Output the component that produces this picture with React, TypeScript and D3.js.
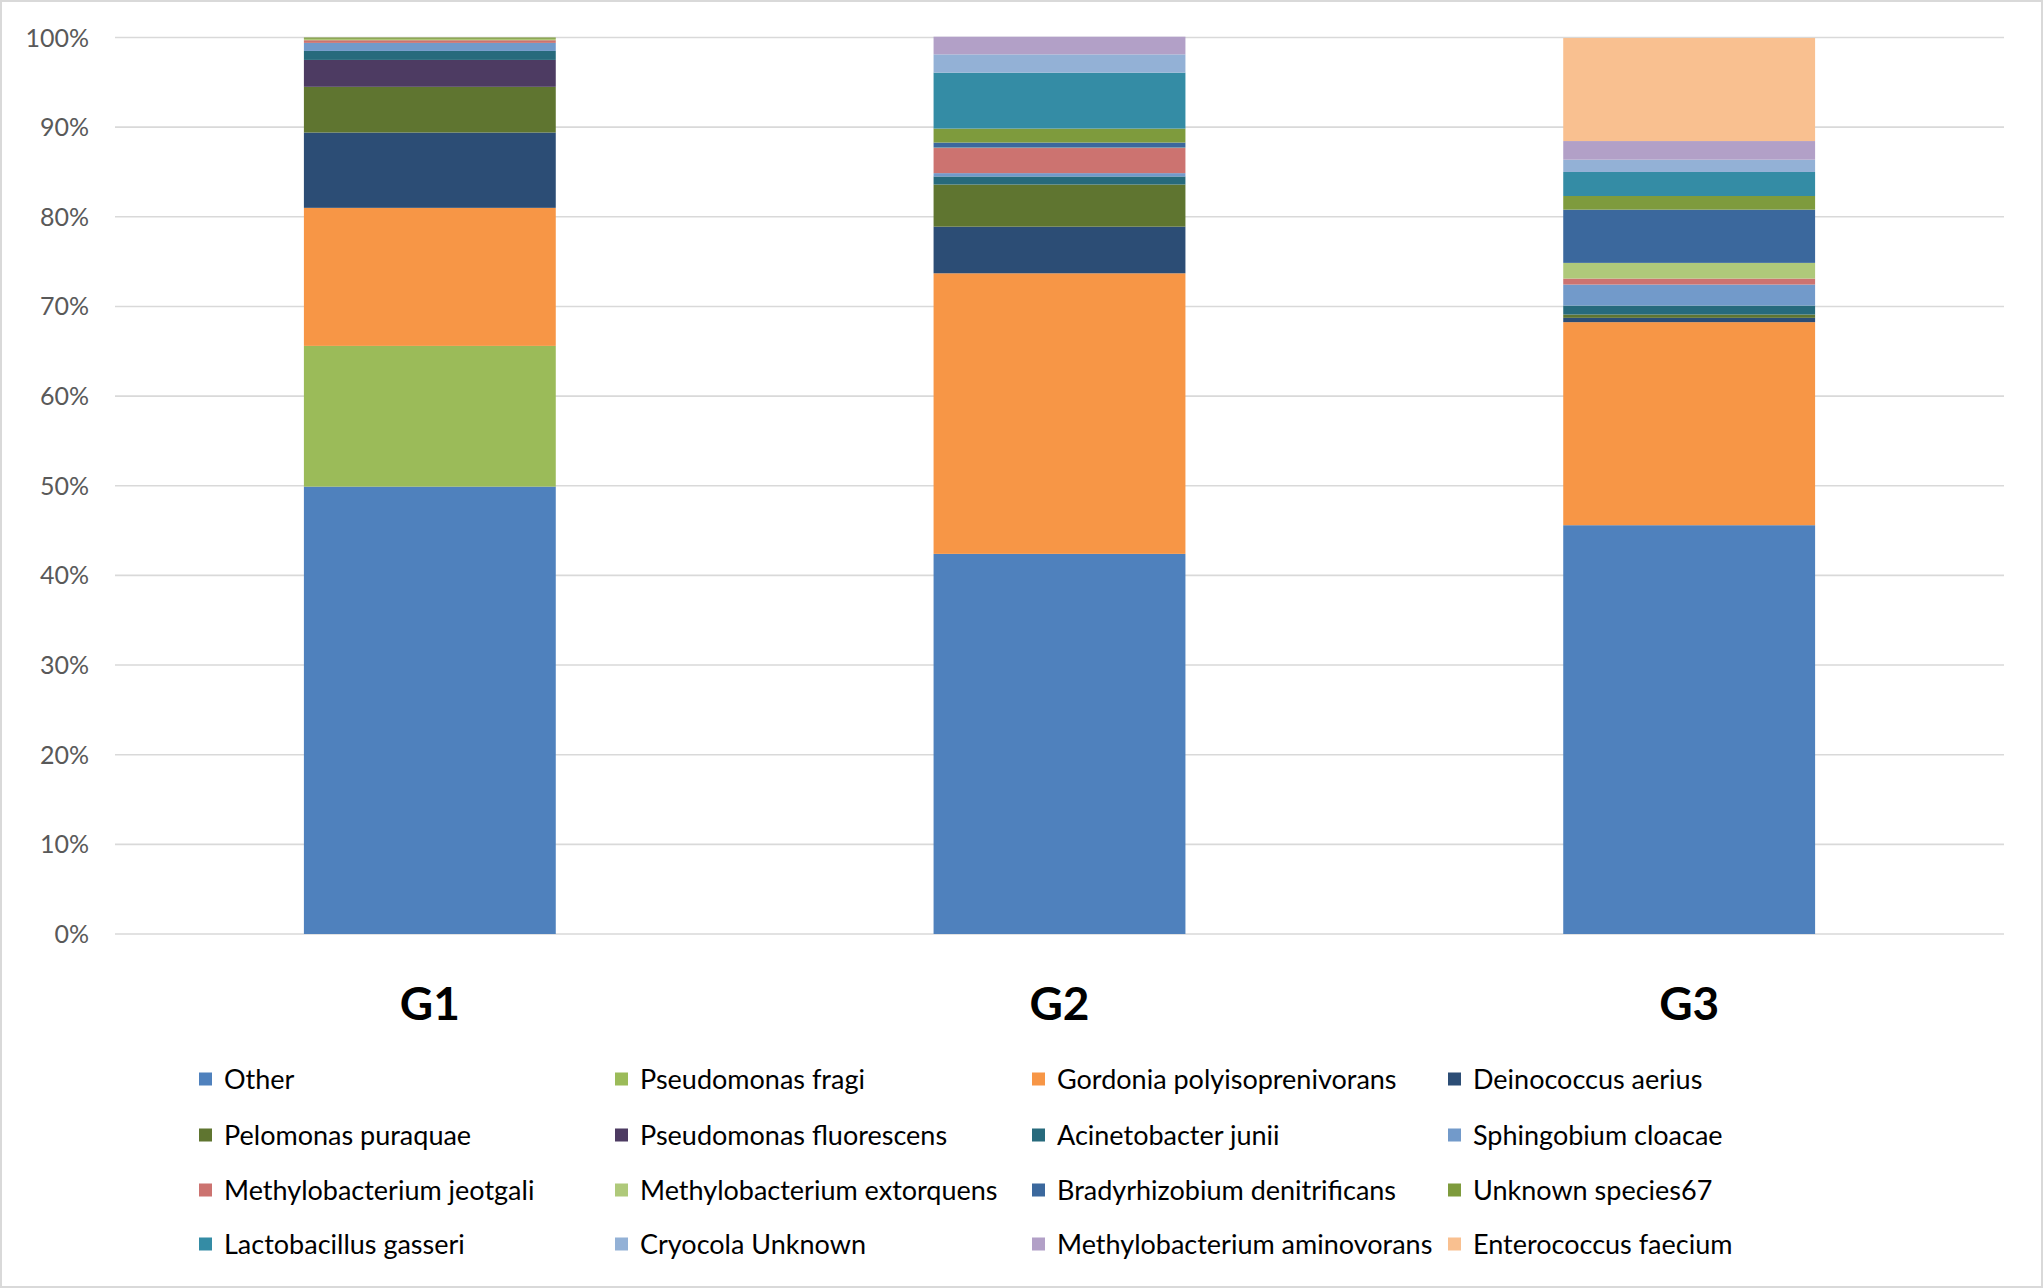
import React from "react";
import * as d3 from "d3";

const groups = ["G1", "G2", "G3"];

const species = [
  "Other",
  "Pseudomonas fragi",
  "Gordonia polyisoprenivorans",
  "Deinococcus aerius",
  "Pelomonas puraquae",
  "Pseudomonas fluorescens",
  "Acinetobacter junii",
  "Sphingobium cloacae",
  "Methylobacterium jeotgali",
  "Methylobacterium extorquens",
  "Bradyrhizobium denitrificans",
  "Unknown species67",
  "Lactobacillus gasseri",
  "Cryocola Unknown",
  "Methylobacterium aminovorans",
  "Enterococcus faecium",
];

const colors = [
  "#4F81BD", "#9BBB59", "#F79646", "#2C4D75",
  "#5F7530", "#4D3B62", "#276A7C", "#729ACA",
  "#CC7370", "#AFC97A", "#3B689D", "#7E9B3D",
  "#348CA5", "#93B1D6", "#B2A0C7", "#F9C090",
];

// percent per species, in legend order
const g1Values = [49.9, 15.7, 15.4, 8.4, 5.1, 3.0, 1.0, 0.9, 0.3, 0.15, 0.0, 0.15, 0, 0, 0, 0];
const g2Values = [42.4, 0, 31.3, 5.2, 4.7, 0, 0.9, 0.37, 2.8, 0.05, 0.56, 1.56, 6.24, 2.04, 1.97, 0];
const g3Values = [45.6, 0, 22.65, 0.48, 0.37, 0, 1.0, 2.34, 0.67, 1.75, 5.94, 1.52, 2.68, 1.37, 2.08, 11.5];

const yTicks = [0, 10, 20, 30, 40, 50, 60, 70, 80, 90, 100];

const W = 2043;
const H = 1288;
const font = "Lato, 'Open Sans', sans-serif";

export default function App() {
  const valuesByGroup = [g1Values, g2Values, g3Values];
  const rows = groups.map((g, gi) => {
    const row: Record<string, any> = { group: g };
    species.forEach((s, si) => (row[s] = valuesByGroup[gi][si]));
    return row;
  });

  const stacked = d3.stack<any>().keys(species)(rows);

  const x = d3.scaleBand().domain(groups).range([115, 2004]).paddingInner(0.6).paddingOuter(0.3);
  const y = d3.scaleLinear().domain([0, 100]).range([934, 37.5]);

  const legendCols = [199, 615, 1032, 1448];
  const legendRows = [1079, 1135, 1190, 1244];

  return (
    <>
      <style>{"body{margin:0}"}</style>
      <svg width={W} height={H} style={{ display: "block", background: "#fff" }}>
        <rect x={1} y={1} width={W - 2} height={H - 2} fill="#fff" stroke="#D9D9D9" strokeWidth={2} />

        {/* grid */}
        {yTicks.map((t) => (
          <g key={t}>
            <line x1={115} x2={2004} y1={y(t)} y2={y(t)} stroke="#D9D9D9" strokeWidth={1.6} />
            <text x={89} y={y(t)} dy="0.36em" textAnchor="end" fontFamily={font} fontSize={25} fill="#595959">
              {t}%
            </text>
          </g>
        ))}

        {/* stacked bars */}
        {stacked.map((layer, li) => (
          <g key={layer.key} fill={colors[li]}>
            {layer.map((d, i) =>
              d[1] - d[0] > 0 ? (
                <rect
                  key={i}
                  x={x(groups[i])!}
                  width={x.bandwidth()}
                  y={y(d[1])}
                  height={y(d[0]) - y(d[1])}
                />
              ) : null
            )}
          </g>
        ))}

        {/* category labels */}
        {groups.map((g) => (
          <text
            key={g}
            x={x(g)! + x.bandwidth() / 2}
            y={1020}
            textAnchor="middle"
            fontFamily={font}
            fontWeight="bold"
            fontSize={46}
            fill="#000"
          >
            {g}
          </text>
        ))}

        {/* legend */}
        {species.map((s, i) => {
          const cx = legendCols[i % 4];
          const cy = legendRows[Math.floor(i / 4)];
          return (
            <g key={s}>
              <rect x={cx} y={cy - 6.5} width={13} height={13} fill={colors[i]} />
              <text x={cx + 25} y={cy} dy="0.36em" fontFamily={font} fontSize={27} fill="#000">
                {s}
              </text>
            </g>
          );
        })}
      </svg>
    </>
  );
}
